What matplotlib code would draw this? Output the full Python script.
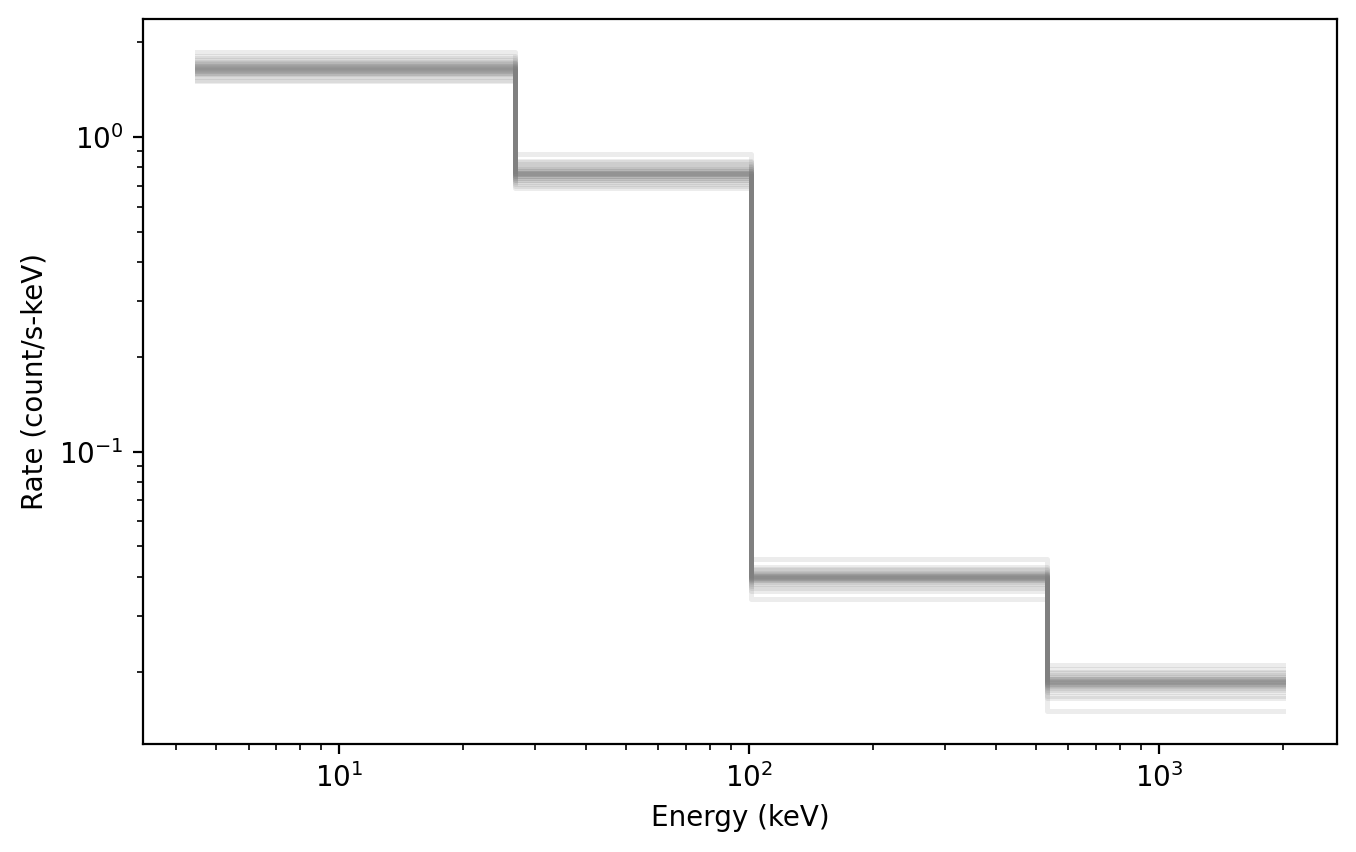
import numpy as np
import matplotlib
matplotlib.use("Agg")
import matplotlib.pyplot as plt

# bin edges (keV)
edges = [4.5, 26.8, 101.0, 532.0, 2000.0]

# posterior sample rates per bin (count/s-keV)
bin1 = [1.66, 1.62, 1.71, 1.58, 1.69, 1.64, 1.75, 1.55, 1.67, 1.60,
        1.73, 1.63, 1.68, 1.52, 1.80, 1.65, 1.61, 1.70, 1.57, 1.66,
        1.86, 1.64, 1.59, 1.72, 1.50, 1.67, 1.63, 1.78, 1.62, 1.68]
bin2 = [0.77, 0.75, 0.80, 0.73, 0.78, 0.76, 0.82, 0.71, 0.79, 0.74,
        0.77, 0.84, 0.76, 0.70, 0.78, 0.75, 0.81, 0.73, 0.77, 0.88,
        0.76, 0.74, 0.79, 0.69, 0.78, 0.75, 0.83, 0.77, 0.72, 0.76]
bin3 = [0.0400, 0.0392, 0.0410, 0.0385, 0.0405, 0.0398, 0.0420, 0.0375, 0.0402, 0.0395,
        0.0430, 0.0388, 0.0408, 0.0360, 0.0401, 0.0396, 0.0415, 0.0380, 0.0399, 0.0455,
        0.0403, 0.0390, 0.0412, 0.0340, 0.0404, 0.0393, 0.0425, 0.0397, 0.0370, 0.0406]
bin4 = [0.0186, 0.0182, 0.0192, 0.0178, 0.0189, 0.0184, 0.0198, 0.0172, 0.0187, 0.0180,
        0.0204, 0.0183, 0.0190, 0.0165, 0.0185, 0.0181, 0.0195, 0.0175, 0.0188, 0.0210,
        0.0186, 0.0179, 0.0193, 0.0150, 0.0187, 0.0183, 0.0200, 0.0185, 0.0168, 0.0189]

fig = plt.figure(figsize=(6.78, 4.26), dpi=200)
ax = fig.add_axes([0.1055, 0.1268, 0.8805, 0.8509])

for r1, r2, r3, r4 in zip(bin1, bin2, bin3, bin4):
    rates = [r1, r2, r3, r4]
    ax.step(edges, rates + [r4], where="post", color="grey", alpha=0.15, lw=1.8)

ax.set_xscale("log")
ax.set_yscale("log")
ax.set_xlabel("Energy (keV)")
ax.set_ylabel("Rate (count/s-keV)")

fig.savefig("out.png", dpi=200)
